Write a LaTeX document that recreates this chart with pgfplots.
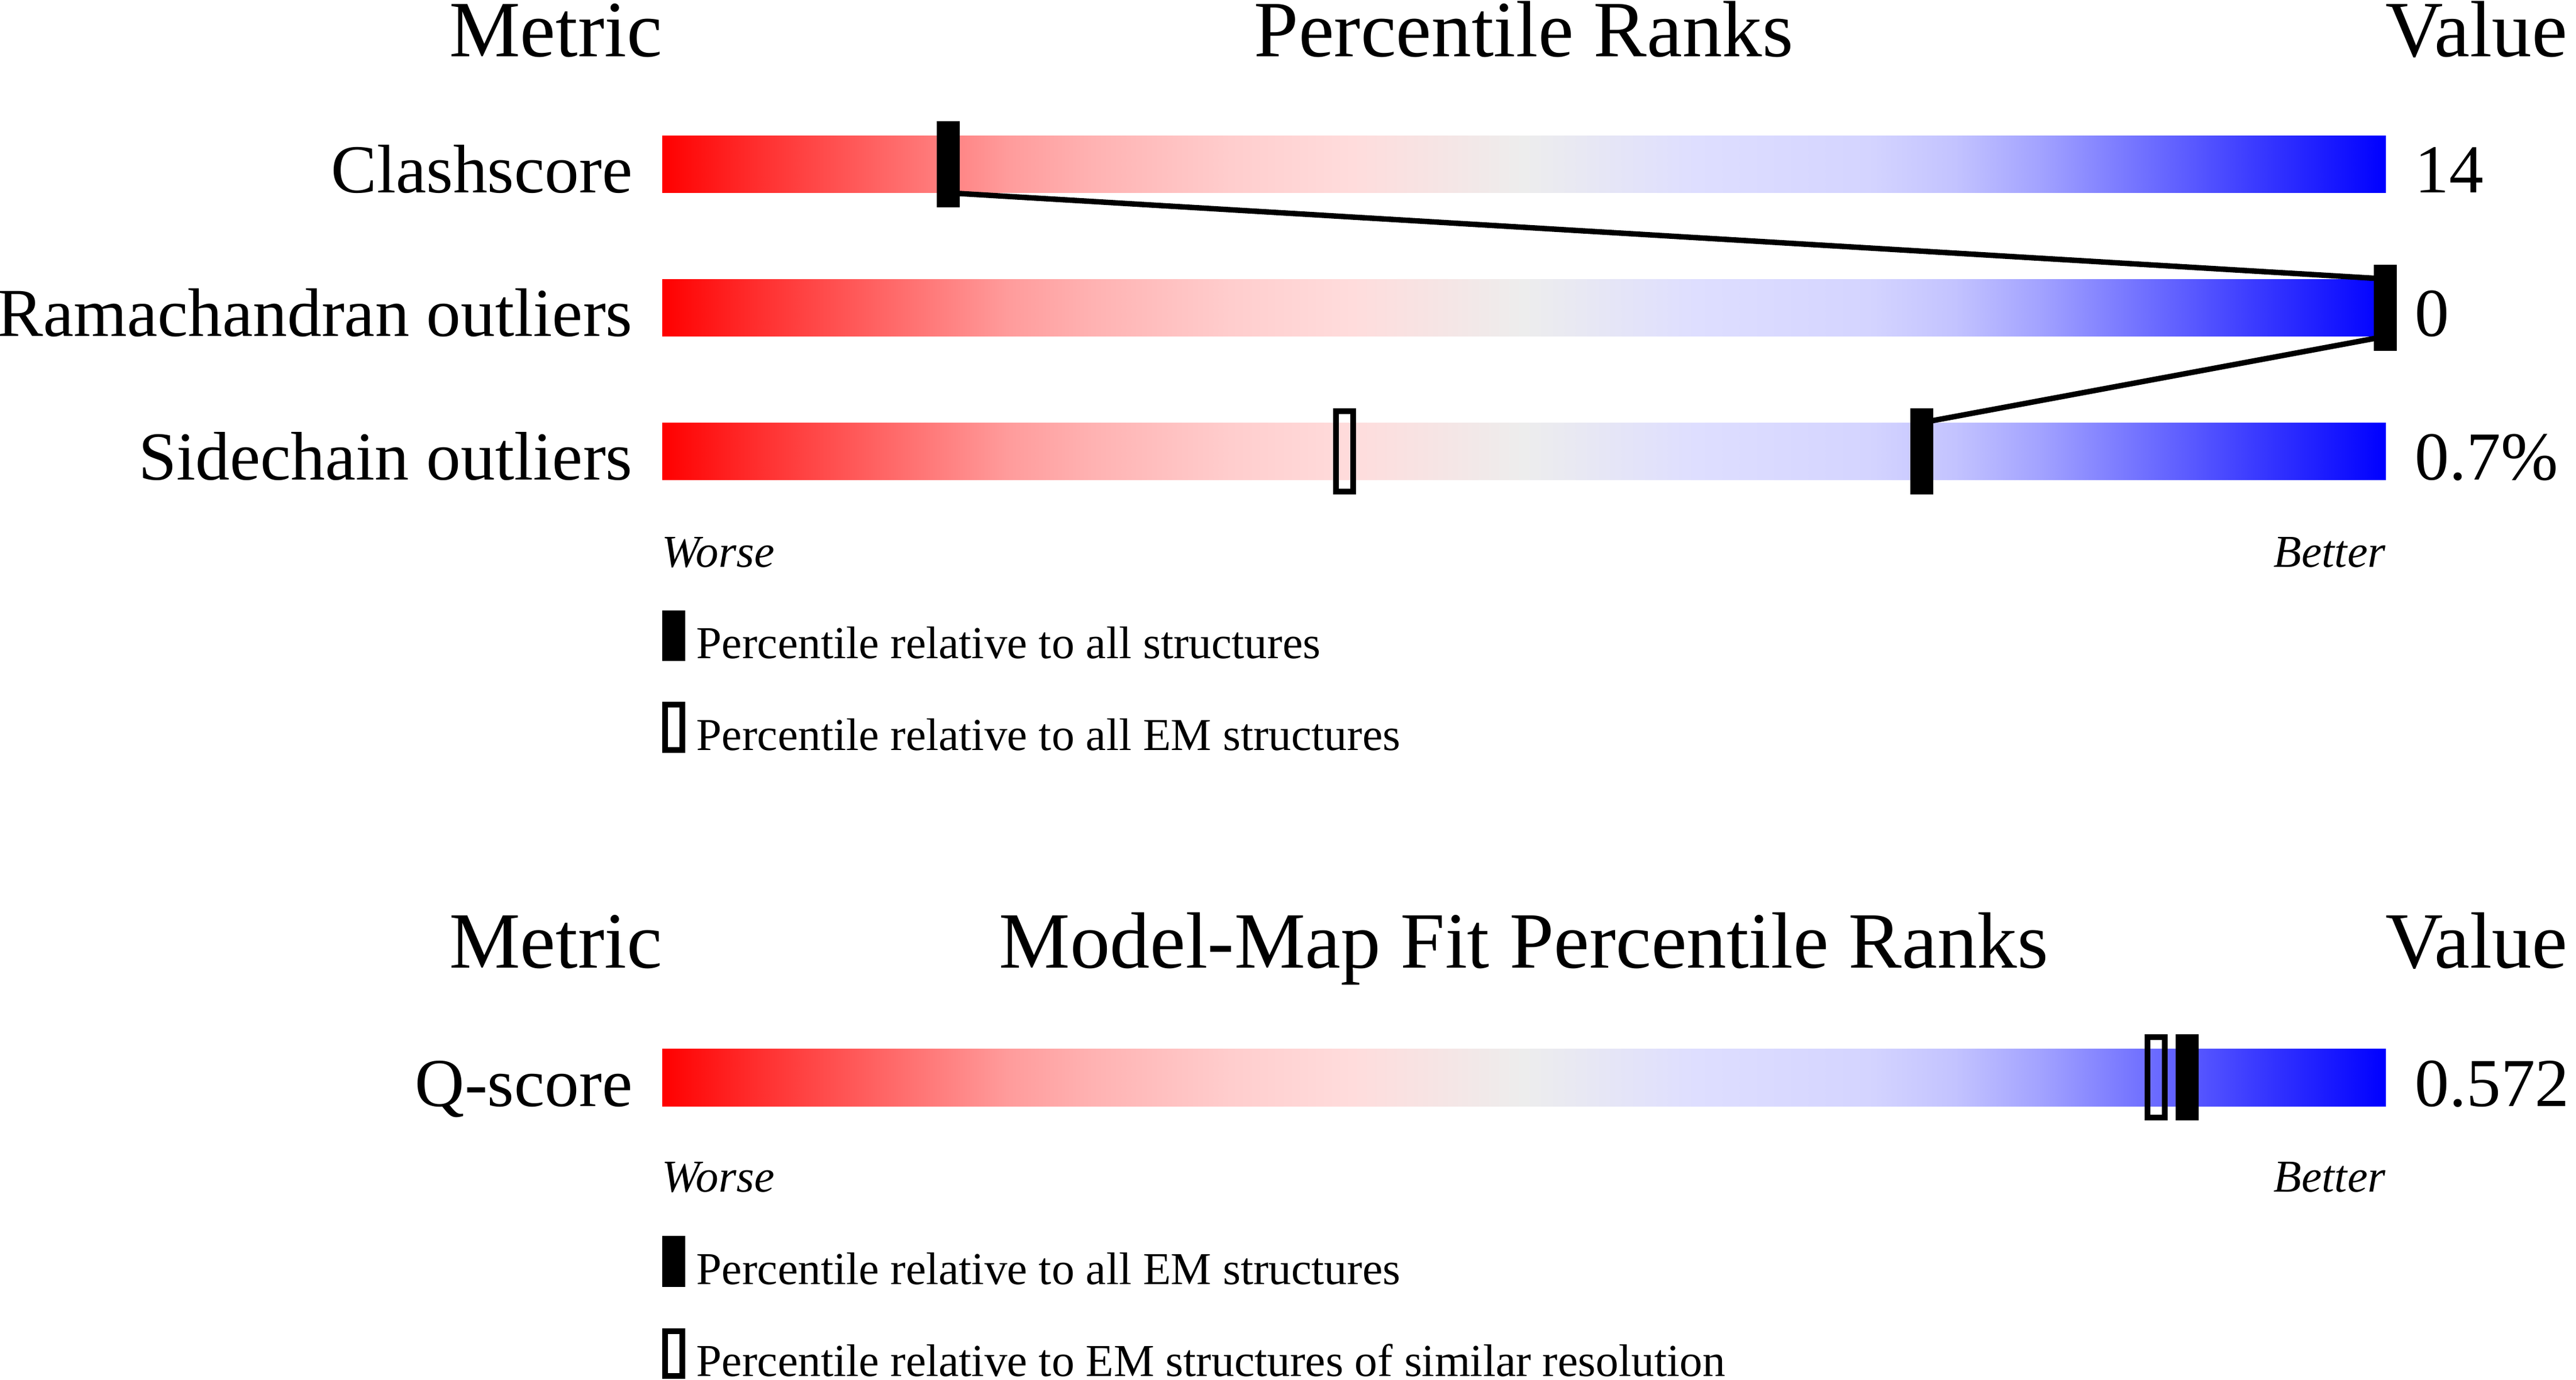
\documentclass[border=0pt]{standalone}
\usepackage{fontspec}
\setmainfont{Liberation Serif}
\usepackage{pgfplots}
\usepackage{pgfplotstable}
\pgfplotsset{compat=1.18}

% slider marks: filled = all structures, open = EM subset
\pgfdeclareplotmark{pctfull}{%
  \pgfpathrectangle{\pgfpoint{-3.5pt}{-13.15pt}}{\pgfpoint{7pt}{26.3pt}}\pgfusepath{fill}}
\pgfdeclareplotmark{pctopen}{%
  \pgfsetlinewidth{1.75pt}%
  \pgfpathrectangle{\pgfpoint{-2.625pt}{-12.275pt}}{\pgfpoint{5.25pt}{24.55pt}}\pgfusepath{stroke}}
\pgfdeclareplotmark{keyfull}{%
  \pgfpathrectangle{\pgfpoint{-3.5pt}{-7.75pt}}{\pgfpoint{7pt}{15.5pt}}\pgfusepath{fill}}
\pgfdeclareplotmark{keyopen}{%
  \pgfsetlinewidth{1.75pt}%
  \pgfpathrectangle{\pgfpoint{-2.625pt}{-6.875pt}}{\pgfpoint{5.25pt}{13.75pt}}\pgfusepath{stroke}}

\pgfplotsset{
  colormap={pct}{rgb255(0)=(255,0,0) rgb255(5)=(255,42,42) rgb255(10)=(255,80,80)
    rgb255(16)=(255,125,125) rgb255(20)=(255,155,155) rgb255(25)=(255,178,178)
    rgb255(33)=(255,205,205) rgb255(40)=(255,220,220) rgb255(50)=(237,237,237)
    rgb255(60)=(222,222,255) rgb255(70)=(212,212,255) rgb255(75)=(195,195,255)
    rgb255(80)=(162,162,255) rgb255(86)=(112,112,255) rgb255(92)=(62,62,255)
    rgb255(100)=(0,0,255)}
}

% gradient strip, x = percentile, dy = offset from row centre
\pgfplotstableread{
x dy
0 -17.45
5 -17.45
10 -17.45
15 -17.45
20 -17.45
25 -17.45
30 -17.45
35 -17.45
40 -17.45
45 -17.45
50 -17.45
55 -17.45
60 -17.45
65 -17.45
70 -17.45
75 -17.45
80 -17.45
85 -17.45
90 -17.45
95 -17.45
100 -17.45
0 17.45
5 17.45
10 17.45
15 17.45
20 17.45
25 17.45
30 17.45
35 17.45
40 17.45
45 17.45
50 17.45
55 17.45
60 17.45
65 17.45
70 17.45
75 17.45
80 17.45
85 17.45
90 17.45
95 17.45
100 17.45
}\strip

\tikzset{
  hdr/.style={font=\fontsize{24.3}{29}\selectfont, inner sep=0pt, outer sep=0pt},
  lab/.style={font=\fontsize{20.9}{25}\selectfont, inner sep=0pt, outer sep=0pt},
  small/.style={font=\fontsize{13.9}{17}\selectfont, inner sep=0pt, outer sep=0pt},
}

\begin{document}
\begin{tikzpicture}
\begin{axis}[
    scale only axis,
    width=784pt, height=420pt,
    xmin=-38.417, xmax=111.058,
    ymin=0, ymax=840, y dir=reverse,
    hide axis, clip=false,
    colormap name=pct,
    point meta min=0, point meta max=100,
]
  % bars
  \foreach \yc in {100,187.3,274.8,655.9} {
    \addplot[surf, shader=interp, mesh/cols=21, point meta=x]
      table[x=x, y expr=\thisrow{dy}+\yc] {\strip};
  }

  % connector between the filled markers
  \addplot[black, line width=1.65pt] coordinates {
    (16.6,117.4) (100,169.8) (100,204.8) (73.1,257.3)
  };

  % percentiles relative to all structures / all EM structures
  \addplot[only marks, black, mark=pctfull] coordinates {
    (16.6,100) (100,187.3) (73.1,274.8) (88.5,655.9)
  };
  \addplot[only marks, black, mark=pctopen] coordinates {
    (39.6,274.8) (86.7,655.9)
  };

  % legend keys
  \addplot[only marks, black, mark=keyfull] coordinates {(0.667,387) (0.667,768)};
  \addplot[only marks, black, mark=keyopen] coordinates {(0.667,442.8) (0.667,824)};

  % headers
  \node[hdr, anchor=base east] at (axis cs:0,34.6) {Metric};
  \node[hdr, anchor=base] at (axis cs:50,34.6) {Percentile Ranks};
  \node[hdr, anchor=base west] at (axis cs:100,34.6) {Value};
  \node[hdr, anchor=base east] at (axis cs:0,589.2) {Metric};
  \node[hdr, anchor=base] at (axis cs:50,589.2) {Model-Map Fit Percentile Ranks};
  \node[hdr, anchor=base west] at (axis cs:100,589.2) {Value};

  % row labels and values
  \node[lab, anchor=base east] at (axis cs:-1.716,117.4) {Clashscore};
  \node[lab, anchor=base east] at (axis cs:-1.716,204.8) {Ramachandran outliers};
  \node[lab, anchor=base east] at (axis cs:-1.716,292.2) {Sidechain outliers};
  \node[lab, anchor=base east] at (axis cs:-1.716,673.4) {Q-score};
  \node[lab, anchor=base west] at (axis cs:101.716,117.4) {14};
  \node[lab, anchor=base west] at (axis cs:101.716,204.8) {0};
  \node[lab, anchor=base west] at (axis cs:101.716,292.2) {0.7\%};
  \node[lab, anchor=base west] at (axis cs:101.716,673.4) {0.572};

  % worse / better
  \node[small, anchor=base west] at (axis cs:0,345.2) {\itshape Worse};
  \node[small, anchor=base east] at (axis cs:100,345.2) {\itshape Better};
  \node[small, anchor=base west] at (axis cs:0,725.6) {\itshape Worse};
  \node[small, anchor=base east] at (axis cs:100,725.6) {\itshape Better};

  % legend texts
  \node[small, anchor=base west] at (axis cs:2.0,400.7) {Percentile relative to all structures};
  \node[small, anchor=base west] at (axis cs:2.0,456.6) {Percentile relative to all EM structures};
  \node[small, anchor=base west] at (axis cs:2.0,781.8) {Percentile relative to all EM structures};
  \node[small, anchor=base west] at (axis cs:2.0,838) {Percentile relative to EM structures of similar resolution};
\end{axis}
\pgfresetboundingbox
\path[use as bounding box] (0,0) rectangle (784pt,420pt);
\end{tikzpicture}
\end{document}
